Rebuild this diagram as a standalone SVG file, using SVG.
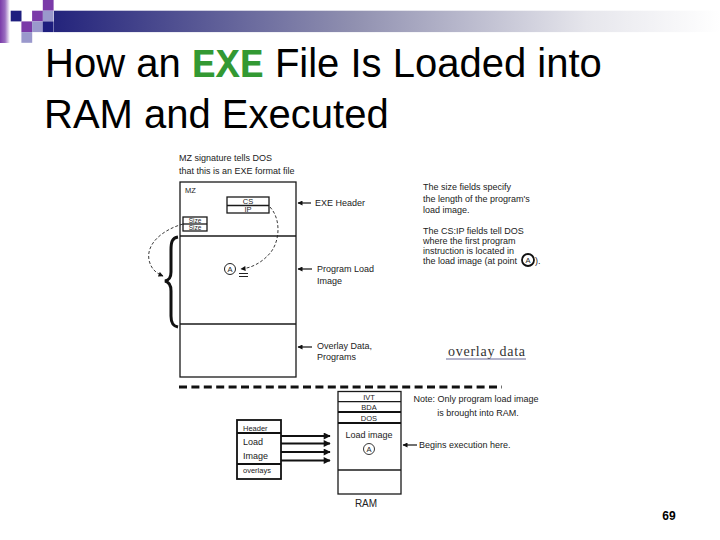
<svg xmlns="http://www.w3.org/2000/svg" width="720" height="540" viewBox="0 0 720 540">
<defs>
<linearGradient id="bar" x1="0" y1="0" x2="1" y2="0">
<stop offset="0" stop-color="#24247c"/>
<stop offset="0.45" stop-color="#9090b0"/>
<stop offset="0.8" stop-color="#e6e6ec"/>
<stop offset="1" stop-color="#ffffff"/>
</linearGradient>
<linearGradient id="strip" x1="0" y1="0" x2="1" y2="0">
<stop offset="0" stop-color="#7a3aa8"/>
<stop offset="0.5" stop-color="#9a6cc0"/>
<stop offset="1" stop-color="#ffffff"/>
</linearGradient>
<marker id="ah" viewBox="0 0 10 10" refX="9" refY="5" markerWidth="6" markerHeight="5" orient="auto" markerUnits="userSpaceOnUse">
<path d="M0,0 L10,5 L0,10 z" fill="#111"/>
</marker>
<marker id="ahb" viewBox="0 0 10 10" refX="9" refY="5" markerWidth="8" markerHeight="7" orient="auto" markerUnits="userSpaceOnUse">
<path d="M0,0 L10,5 L0,10 z" fill="#111"/>
</marker>
<style>
.t{font-family:"Liberation Sans",Arial,sans-serif;font-size:9px;fill:#222}
.s{font-family:"Liberation Sans",Arial,sans-serif;font-size:7.5px;fill:#222}
.xs{font-family:"Liberation Sans",Arial,sans-serif;font-size:6.5px;fill:#222}
.c{text-anchor:middle}
.box{fill:none;stroke:#1a1a1a;stroke-width:1.3}
.thick{fill:none;stroke:#111;stroke-width:2}
.arr{stroke:#111;stroke-width:1.2;fill:none;marker-end:url(#ah)}
.arrb{stroke:#111;stroke-width:1.8;fill:none;marker-end:url(#ahb)}
.dash{stroke:#222;stroke-width:0.9;fill:none;stroke-dasharray:3 2;marker-end:url(#ah)}
.nav{fill:#1e1e7e}.pur{fill:#7a3aa8}.lav{fill:#9a98cc}
</style>
</defs>
<g id="decor">
<rect x="0" y="0" width="10" height="43" fill="url(#strip)"/>
<rect x="54" y="10.7" width="666" height="21.4" fill="url(#bar)"/>
<rect class="pur" x="42.8" y="0" width="10.8" height="10.7"/>
<rect class="nav" x="10.7" y="10.7" width="10.8" height="10.7"/>
<rect class="pur" x="32.1" y="10.7" width="10.8" height="10.7"/>
<rect class="lav" x="42.8" y="10.7" width="10.8" height="10.7"/>
<rect class="pur" x="21.4" y="21.4" width="10.8" height="10.7"/>
<rect class="lav" x="32.1" y="21.4" width="10.8" height="10.7"/>
<rect class="nav" x="42.8" y="21.4" width="10.8" height="10.7"/>
<rect class="lav" x="21.4" y="32.1" width="10.8" height="10.7"/>
</g>
<g id="title" font-family="Liberation Sans, Arial, sans-serif" font-size="40" fill="#000">
<text x="45" y="77">How an <tspan font-family="'Liberation Mono', 'Courier New', monospace" font-weight="bold" fill="#339933">EXE</tspan> File Is Loaded into</text>
<text x="44" y="128">RAM and Executed</text>
</g>
<g id="mz-caption">
<text class="t" x="179" y="160.5">MZ signature tells DOS</text>
<text class="t" x="179" y="173.5">that this is an EXE format file</text>
</g>
<g id="exe-file">
<rect class="box" x="180" y="182" width="116" height="195"/>
<line class="box" x1="180" y1="236" x2="296" y2="236"/>
<line class="box" x1="180" y1="324" x2="296" y2="324"/>
<text class="s" x="185" y="193">MZ</text>
</g>
<g id="cs-ip">
<rect class="box" x="227" y="197" width="42" height="16"/>
<line class="box" x1="227" y1="205.5" x2="269" y2="205.5"/>
<text class="s c" x="248" y="204">CS</text>
<text class="s c" x="248" y="212">IP</text>
</g>
<g id="size-fields">
<rect class="box" x="183" y="217" width="24" height="14"/>
<line class="box" x1="183" y1="224" x2="207" y2="224"/>
<text class="xs c" x="195" y="222.6">Size</text>
<text class="xs c" x="195" y="229.7">Size</text>
</g>
<g id="point-a">
<circle cx="230" cy="269" r="5.5" fill="none" stroke="#222" stroke-width="1"/>
<text class="s c" x="230" y="271.8">A</text>
<line x1="239" y1="273.5" x2="248" y2="273.5" stroke="#222" stroke-width="1"/>
<line x1="239" y1="276.5" x2="248" y2="276.5" stroke="#222" stroke-width="1"/>
</g>
<g id="brace">
<path d="M178,237 C172,238 171,242 171,250 L171,272 C171,278 169,280 165,281 C169,282 171,285 171,291 L171,316 C171,323 173,326 178,327" fill="none" stroke="#111" stroke-width="3"/>
</g>
<g id="labels">
<text class="t" x="315" y="206">EXE Header</text>
<text class="t" x="317" y="272">Program Load</text>
<text class="t" x="317" y="284">Image</text>
<text class="t" x="317" y="349">Overlay Data,</text>
<text class="t" x="317" y="360">Programs</text>
</g>
<g id="explanation">
<text class="t" x="423" y="190">The size fields specify</text>
<text class="t" x="423" y="201.5">the length of the program's</text>
<text class="t" x="423" y="212.5">load image.</text>
<text class="t" x="423" y="233.5">The CS:IP fields tell DOS</text>
<text class="t" x="423" y="244">where the first program</text>
<text class="t" x="423" y="254">instruction is located in</text>
<text class="t" x="423" y="263.5">the load image (at point</text>
<circle cx="528" cy="260" r="6" fill="none" stroke="#111" stroke-width="1.8"/>
<text class="s c" x="528" y="262.8">A</text>
<text class="t" x="535" y="263.5">).</text>
</g>
<g id="overlay-data">
<text x="448" y="356" font-family="Liberation Serif, Times New Roman, serif" font-size="14" fill="#333" textLength="77" lengthAdjust="spacing">overlay data</text>
<line x1="446" y1="359" x2="526" y2="359" stroke="#6a6a98" stroke-width="1.2"/>
</g>
<g id="divider">
<line x1="179" y1="387" x2="502" y2="387" stroke="#111" stroke-width="3" stroke-dasharray="8 4.4"/>
</g>
<g id="ram">
<rect class="box" x="338" y="391.5" width="63" height="102.5"/>
<line class="box" x1="338" y1="401.7" x2="401" y2="401.7"/>
<line class="thick" x1="338" y1="412" x2="401" y2="412"/>
<line class="thick" x1="338" y1="423" x2="401" y2="423"/>
<line class="box" x1="338" y1="470" x2="401" y2="470"/>
<text class="s c" x="369" y="399.5">IVT</text>
<text class="s c" x="369" y="410">BDA</text>
<text class="s c" x="369" y="421">DOS</text>
<text class="t c" x="369" y="438">Load image</text>
<circle cx="369" cy="449" r="5.5" fill="none" stroke="#222" stroke-width="0.9"/>
<text class="s c" x="369" y="451.8">A</text>
<text x="366" y="507" font-family="Liberation Sans, Arial, sans-serif" font-size="10" fill="#222" text-anchor="middle">RAM</text>
</g>
<g id="note">
<text class="t c" x="476" y="402">Note: Only program load image</text>
<text class="t c" x="478" y="416">is brought into RAM.</text>
<text class="t" x="419" y="448">Begins execution here.</text>
</g>
<g id="file-on-disk">
<rect x="237" y="420" width="44" height="59" fill="none" stroke="#111" stroke-width="1.8"/>
<line x1="237" y1="433" x2="281" y2="433" stroke="#111" stroke-width="1.8"/>
<line x1="237" y1="464" x2="281" y2="464" stroke="#111" stroke-width="1.8"/>
<text class="s" x="243" y="431">Header</text>
<text class="t" x="243" y="445">Load</text>
<text class="t" x="243" y="459">Image</text>
<text class="s" x="243" y="472.5">overlays</text>
</g>
<g id="connectors">
<line class="arr" x1="311" y1="203" x2="298" y2="203"/>
<line class="arr" x1="312" y1="269" x2="298" y2="269"/>
<line class="arr" x1="312" y1="347" x2="298" y2="347"/>
<line class="arr" x1="417" y1="445" x2="403" y2="445"/>
<path class="dash" d="M183,224 C162,230 146,244 149,260 C151,269 156,273 163,276"/>
<path class="dash" d="M270,207 C281,219 280,240 271,252 C263,262 252,268 241,269"/>
<line class="arrb" x1="281" y1="436" x2="330" y2="436"/>
<line class="arrb" x1="281" y1="443.5" x2="330" y2="443.5"/>
<line class="arrb" x1="281" y1="452" x2="330" y2="452"/>
<line class="arrb" x1="281" y1="460.5" x2="330" y2="460.5"/>
</g>
<g id="page-number">
<text x="669" y="520" font-family="Liberation Sans, Arial, sans-serif" font-size="12" font-weight="bold" fill="#000" text-anchor="middle">69</text>
</g>
</svg>
